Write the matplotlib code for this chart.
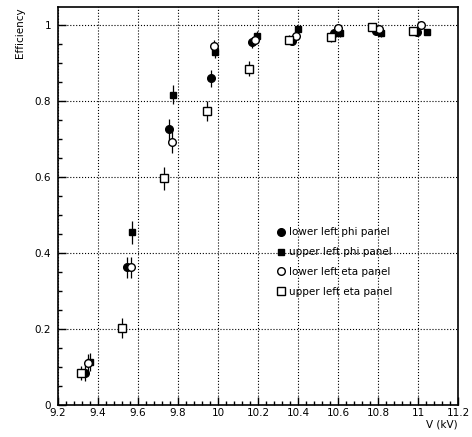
import numpy as np
import matplotlib
matplotlib.use("Agg")
import matplotlib.pyplot as plt
from matplotlib.ticker import MultipleLocator, FormatStrFormatter

# lower left phi panel (filled circle)
llphi_v = [9.335, 9.547, 9.753, 9.963, 10.170, 10.372, 10.580, 10.790, 10.997]
llphi_eff = [0.084, 0.362, 0.725, 0.859, 0.954, 0.958, 0.978, 0.985, 0.980]
llphi_err = [0.020, 0.028, 0.027, 0.022, 0.014, 0.012, 0.009, 0.008, 0.008]

# upper left phi panel (filled square)
ulphi_v = [9.360, 9.568, 9.777, 9.987, 10.193, 10.400, 10.608, 10.817, 11.043]
ulphi_eff = [0.113, 0.454, 0.816, 0.928, 0.972, 0.989, 0.978, 0.978, 0.981]
ulphi_err = [0.024, 0.030, 0.025, 0.016, 0.012, 0.008, 0.009, 0.009, 0.008]

# lower left eta panel (open circle)
lleta_v = [9.352, 9.565, 9.770, 9.978, 10.185, 10.390, 10.600, 10.807, 11.013]
lleta_eff = [0.110, 0.362, 0.693, 0.945, 0.959, 0.971, 0.991, 0.989, 1.000]
lleta_err = [0.024, 0.028, 0.030, 0.016, 0.012, 0.010, 0.008, 0.008, 0.006]

# upper left eta panel (open square)
uleta_v = [9.315, 9.520, 9.730, 9.945, 10.153, 10.357, 10.565, 10.770, 10.977]
uleta_eff = [0.084, 0.202, 0.596, 0.773, 0.885, 0.961, 0.967, 0.994, 0.984]
uleta_err = [0.018, 0.026, 0.030, 0.026, 0.020, 0.012, 0.012, 0.006, 0.008]

fig = plt.figure(figsize=(4.72, 4.37), dpi=100)
ax = fig.add_axes([0.1229, 0.0732, 0.8475, 0.9108])

common = dict(linestyle='none', ecolor='black', elinewidth=0.9, capsize=0,
              markeredgecolor='black', markeredgewidth=1.0)
series = [
    (llphi_v, llphi_eff, llphi_err, 'o', 5.5, 'black', 'lower left phi panel'),
    (ulphi_v, ulphi_eff, ulphi_err, 's', 5.0, 'black', 'upper left phi panel'),
    (lleta_v, lleta_eff, lleta_err, 'o', 5.5, 'white', 'lower left eta panel'),
    (uleta_v, uleta_eff, uleta_err, 's', 5.5, 'white', 'upper left eta panel'),
]
handles = []
for v, eff, err, mk, ms, fc, lab in series:
    cont = ax.errorbar(v, eff, yerr=err, marker=mk, ms=ms,
                       markerfacecolor=fc, label=lab, **common)
    handles.append(cont[0])

ax.set_xlim(9.2, 11.2)
ax.set_ylim(0, 1.047)
ax.xaxis.set_major_locator(MultipleLocator(0.2))
ax.xaxis.set_minor_locator(MultipleLocator(0.04))
ax.yaxis.set_major_locator(MultipleLocator(0.2))
ax.yaxis.set_minor_locator(MultipleLocator(0.05))
ax.xaxis.set_major_formatter(FormatStrFormatter('%g'))
ax.yaxis.set_major_formatter(FormatStrFormatter('%g'))
ax.tick_params(which='both', direction='in', top=False, right=False,
               labelsize=7.5, width=1)
ax.tick_params(which='major', length=6)
ax.tick_params(axis='x', which='major', pad=2)
ax.tick_params(axis='y', which='major', pad=5)
ax.tick_params(which='minor', length=3)
for s in ax.spines.values():
    s.set_linewidth(1.2)
ax.grid(True, which='major', color='black', linestyle=':', linewidth=0.8)

ax.set_ylabel('Efficiency', fontsize=7.5, loc='top', labelpad=7)
ax.set_xlabel('V (kV)', fontsize=7.5, loc='right', labelpad=1)

ax.legend(handles=[h for h in handles],
          labels=[s[-1] for s in series],
          loc='upper left', bbox_to_anchor=(0.535, 0.457), frameon=False,
          fontsize=7.5, handletextpad=0.2, handlelength=1.0,
          labelspacing=0.95, borderaxespad=0)

fig.savefig('out.png', dpi=100)
